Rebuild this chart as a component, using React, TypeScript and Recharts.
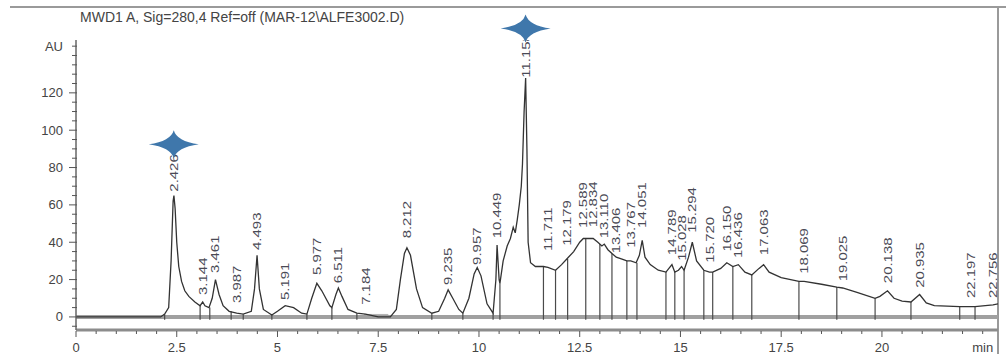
import React from 'react';
import { ComposedChart, Line, XAxis, YAxis, ReferenceLine, ReferenceDot, Scatter, ReferenceArea } from 'recharts';

const title = 'MWD1 A, Sig=280,4 Ref=off (MAR-12\\ALFE3002.D)';

const signalTimes = [
  0, 2.1, 2.2, 2.3, 2.36, 2.41, 2.43, 2.46, 2.5, 2.55, 2.62, 2.7, 2.8, 2.95, 3.08, 3.144, 3.2, 3.3, 3.38, 3.461,
  3.55, 3.65, 3.8, 3.987, 4.15, 4.35, 4.43, 4.493, 4.55, 4.65, 4.86, 5.0, 5.191, 5.4, 5.6, 5.73, 5.85, 5.977, 6.1, 6.3,
  6.35, 6.45, 6.511, 6.6, 6.75, 6.97, 7.184, 7.5, 7.8, 7.95, 8.05, 8.15, 8.212, 8.3, 8.45, 8.6, 8.83, 9.0, 9.15, 9.235,
  9.35, 9.5, 9.6, 9.75, 9.88, 9.957, 10.05, 10.2, 10.35, 10.42, 10.449, 10.5, 10.52, 10.6, 10.7, 10.78, 10.85, 10.9, 10.95, 11.0,
  11.05, 11.08, 11.12, 11.158, 11.19, 11.22, 11.28, 11.4, 11.6, 11.711, 11.9, 12.05, 12.179, 12.35, 12.5, 12.589, 12.7, 12.834, 12.95, 13.05,
  13.11, 13.2, 13.3, 13.406, 13.55, 13.67, 13.767, 13.9, 13.98, 14.051, 14.12, 14.25, 14.45, 14.64, 14.789, 14.86, 14.95, 15.028, 15.09, 15.2,
  15.294, 15.4, 15.58, 15.72, 15.8, 16.0, 16.15, 16.3, 16.436, 16.6, 16.77, 16.95, 17.063, 17.2, 17.5, 17.94, 18.069, 18.5, 18.88, 19.025,
  19.4, 19.83, 19.95, 20.138, 20.3, 20.5, 20.72, 20.935, 21.1, 21.3, 21.93, 22.197, 22.31, 22.756, 22.88,
];
const signalValues = [
  0, 0, 1.5, 5, 30, 62, 65, 58, 40, 27, 19, 14, 11, 8, 6, 8, 6, 5, 10, 20,
  12, 6, 3, 2, 1.5, 3, 15, 33, 15, 4, 1, 3, 6, 5, 2, 1.5, 10, 18, 14, 6,
  5, 12, 15.5, 11, 4, 2, 1.5, 0, 0, 4, 20, 34, 37, 33, 15, 5, 2, 3, 10, 14.5,
  10, 4, 2, 10, 23, 26.5, 22, 7, 2, 20, 38.5, 20, 18, 30, 38, 42, 48, 45, 52, 60,
  70, 82, 110, 128, 90, 40, 29, 27, 27, 26.5, 25, 28, 31, 35, 40, 42, 42, 42, 40, 38,
  39, 36, 34, 32, 31, 30, 30, 29, 33, 41, 32, 28, 25, 24, 28, 24, 25, 27, 25, 32,
  40, 30, 25, 24, 24, 26, 29, 27, 28, 24, 22.5, 26, 28, 24, 21, 19, 19, 17.5, 16, 15.5,
  13, 10, 11, 14, 10, 8.5, 8, 12, 7.5, 6, 5.5, 5.5, 5.5, 6.5, 7,
];

const peakLabels = [
  '2.426', '3.144', '3.461', '3.987', '4.493', '5.191', '5.977', '6.511', '7.184', '8.212', '9.235', '9.957', '10.449',
  '11.158', '11.711', '12.179', '12.589', '12.834', '13.110', '13.406', '13.767', '14.051', '14.789', '15.028', '15.294',
  '15.720', '16.150', '16.436', '17.063', '18.069', '19.025', '20.138', '20.935', '22.197', '22.756',
];
const peakHeights = [
  66, 10.7, 22.5, 6.4, 34.8, 8, 21.4, 17, 5.4, 41, 16, 26.8, 41,
  127, 34.3, 37, 46.6, 47, 41, 33, 36, 46.6, 32, 29, 44,
  28, 34, 30.5, 32, 22, 18, 17, 14.5, 9, 9,
];

const dropTimes = [2.2, 3.08, 3.32, 3.85, 4.15, 4.86, 5.73, 6.35, 6.97, 8.83, 9.6, 10.35, 10.52, 11.6, 11.9, 12.2, 12.65, 13.0, 13.3, 13.67, 13.92, 14.64, 14.86, 15.09, 15.58, 15.8, 16.3, 16.77, 17.94, 18.88, 19.83, 20.72, 21.93, 22.31];
const dropHeights = [1.5, 6, 5, 3, 1.5, 1, 1.5, 5, 2, 2, 2, 2, 18, 27, 25, 31, 42, 39, 34, 30, 29, 24, 24, 25, 25, 24, 27, 22.5, 19, 16, 10, 8, 5.5, 5.5];

const starTimes = [2.426, 11.158];
const starHeights = [92.5, 154.5];

const yTicks = [-5, 0, 5, 10, 15, 20, 25, 30, 35, 40, 45, 50, 55, 60, 65, 70, 75, 80, 85, 90, 95, 100, 105, 110, 115, 120, 125, 130, 135, 140, 145];
const yMajor = [0, 20, 40, 60, 80, 100, 120];
const yUnitTick = 145;
const yUnit = 'AU';
const xTicks = [0, 0.5, 1, 1.5, 2, 2.5, 3, 3.5, 4, 4.5, 5, 5.5, 6, 6.5, 7, 7.5, 8, 8.5, 9, 9.5, 10, 10.5, 11, 11.5, 12, 12.5, 13, 13.5, 14, 14.5, 15, 15.5, 16, 16.5, 17, 17.5, 18, 18.5, 19, 19.5, 20, 20.5, 21, 21.5, 22, 22.5];
const xMajor = [0, 2.5, 5, 7.5, 10, 12.5, 15, 17.5, 20];
const xUnitTick = 22.5;
const xUnit = 'min';

const signalData = signalTimes.map((t, i) => ({ t, v: signalValues[i] }));
const peakData = peakLabels.map((label, i) => ({ t: parseFloat(label), h: peakHeights[i], label }));

const FONT = '"Liberation Sans", Arial, sans-serif';
const TEXT = '#444';

const YTick = (props: any) => {
  const { x, y, payload } = props;
  const v = payload.value;
  const major = yMajor.includes(v);
  const unit = v === yUnitTick;
  return (
    <g>
      <line x1={major ? x - 7 : x - 4} x2={x + 1} y1={y} y2={y} stroke="#555" strokeWidth={1} />
      {(major || unit) && (
        <text x={x - 13} y={y} dy="0.35em" textAnchor="end" fontSize={13} fontFamily={FONT} fill={TEXT}>
          {unit ? yUnit : String(v)}
        </text>
      )}
    </g>
  );
};

const XTick = (props: any) => {
  const { x, y, payload } = props;
  const v = payload.value;
  const major = xMajor.includes(v);
  const unit = v === xUnitTick;
  return (
    <g>
      <line x1={x} x2={x} y1={y + 1} y2={y + (major ? 7 : 4)} stroke="#555" strokeWidth={1} />
      {(major || unit) && (
        <text x={x} y={y + 17} dy="0.35em" textAnchor="middle" fontSize={13} fontFamily={FONT} fill={TEXT}>
          {unit ? xUnit : String(v)}
        </text>
      )}
    </g>
  );
};

const PeakLabel = (props: any) => {
  const { cx, cy, payload } = props;
  if (cx == null || cy == null) return null;
  return (
    <text
      transform={`translate(${cx},${cy - 2}) rotate(-90) scale(1.3,1)`}
      x={0}
      y={0}
      dy="0.35em"
      textAnchor="start"
      fontSize={11.5}
      fontFamily={FONT}
      fill="#4a4a55"
    >
      {payload.label}
    </text>
  );
};

const Star = (props: any) => {
  const { cx, cy } = props;
  if (cx == null || cy == null) return null;
  const w = 25;
  const h = 14;
  const d = `M${cx - w},${cy} Q${cx - 3},${cy - 3} ${cx},${cy - h} Q${cx + 3},${cy - 3} ${cx + w},${cy} Q${cx + 3},${cy + 3} ${cx},${cy + h} Q${cx - 3},${cy + 3} ${cx - w},${cy} Z`;
  return <path d={d} fill="#3f77ab" />;
};

export default function App() {
  return (
    <div style={{ position: 'absolute', left: 0, top: 0, width: 1006, height: 356, background: '#fff', overflow: 'hidden' }}>
      <div style={{ position: 'absolute', left: 10, top: 6, width: 996, height: 2, background: '#9a9a9a' }} />
      <div style={{ position: 'absolute', left: 997, top: 6, width: 2, height: 348, background: '#9a9a9a' }} />
      <div style={{ position: 'absolute', left: 80, top: 9, fontFamily: FONT, fontSize: 14, color: TEXT, whiteSpace: 'nowrap', lineHeight: '17px' }}>
        {title}
      </div>
      <div style={{ position: 'absolute', left: 0, top: 0 }}>
        <ComposedChart width={1006} height={356} data={signalData} margin={{ top: 40, right: 8, bottom: 0, left: 0 }}>
          <XAxis
            dataKey="t"
            type="number"
            domain={[0, 22.88]}
            ticks={xTicks}
            interval={0}
            allowDataOverflow
            height={26}
            tickSize={0}
            tickMargin={0}
            tickLine={false}
            tick={<XTick />}
            axisLine={{ stroke: '#8c8c8c', strokeWidth: 3 }}
          />
          <YAxis
            type="number"
            domain={[-7, 148.3]}
            ticks={yTicks}
            interval={0}
            allowDataOverflow
            width={76}
            tickSize={0}
            tickMargin={0}
            tickLine={false}
            tick={<YTick />}
            axisLine={{ stroke: '#666', strokeWidth: 1.5 }}
          />
          <ReferenceLine y={0} stroke="#a0a0a0" strokeWidth={4} />
          <ReferenceArea x1={7.15} x2={7.75} y1={0} y2={1.6} fill="#b5b5b5" fillOpacity={1} stroke="none" />
          {dropTimes.map((t, i) => (
            <ReferenceLine
              key={`d${i}`}
              segment={[{ x: t, y: -1.5 }, { x: t, y: dropHeights[i] }]}
              stroke="#4a4a4a"
              strokeWidth={1.2}
              ifOverflow="visible"
            />
          ))}
          <Line dataKey="v" type="linear" stroke="#333" strokeWidth={1.3} dot={false} isAnimationActive={false} />
          <Scatter data={peakData} dataKey="h" shape={<PeakLabel />} isAnimationActive={false} />
          {starTimes.map((t, i) => (
            <ReferenceDot key={`s${i}`} x={t} y={starHeights[i]} ifOverflow="visible" shape={<Star />} />
          ))}
        </ComposedChart>
      </div>
    </div>
  );
}
